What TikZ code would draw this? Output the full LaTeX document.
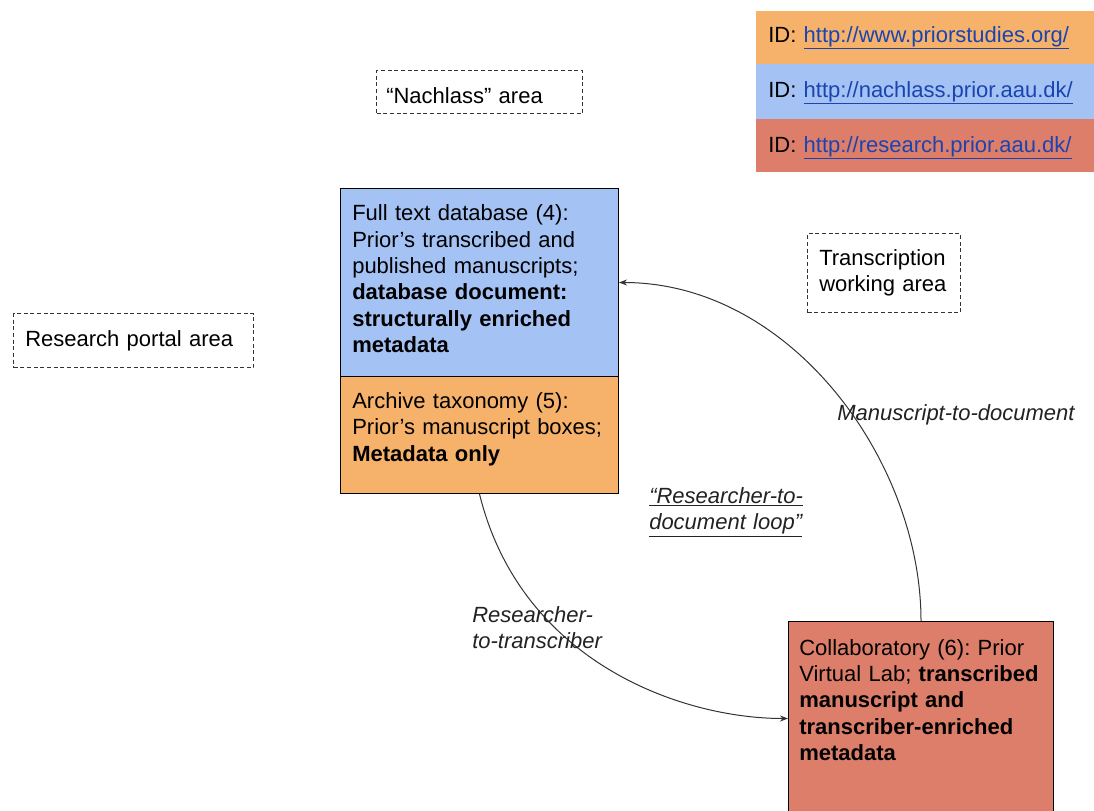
\documentclass[tikz,border=0pt]{standalone}
\usepackage{fontspec}
\setmainfont{Liberation Sans}
\usetikzlibrary{arrows.meta}
\frenchspacing
\definecolor{orangeF}{HTML}{F6B26B}
\definecolor{blueF}{HTML}{A4C2F4}
\definecolor{redF}{HTML}{DD7E6B}
\definecolor{linkC}{HTML}{1A44B0}
\definecolor{lineC}{HTML}{333333}
\definecolor{labC}{HTML}{222222}
\newcommand\fs{\fontsize{16.5}{19.7}\selectfont}
\newcommand\lnk[1]{\textcolor{linkC}{\underline{#1}}}
\tikzset{
  box/.style={draw=black, line width=0.75pt, anchor=north west, inner sep=0pt},
  legbox/.style={draw=none, anchor=north west, inner sep=0pt, minimum width=255pt},
  dashbox/.style={draw=lineC, line width=0.75pt, dash pattern=on 3pt off 2pt, anchor=north west, inner sep=0pt},
  txt/.style={anchor=north west, inner sep=0pt, align=left, text width=300pt, font=\fs},
  lab/.style={txt, text=labC, font=\fs\itshape},
  conn/.style={draw=lineC, line width=0.75pt, -{Stealth[length=6pt,width=4.5pt]}}
}
\begin{document}
\begin{tikzpicture}[x=0.75pt,y=-0.75pt]
\useasboundingbox (0,0) rectangle (1094,810);
% legend
\node[legbox, fill=orangeF, minimum height=39.75pt] (legO) at (756,11) {};
\node[legbox, fill=blueF, minimum height=41.25pt] (legB) at (756,64) {};
\node[legbox, fill=redF, minimum height=39.75pt] (legR) at (756,119) {};
\node[txt] (legOt) at (768,23.6) {\strut ID: \lnk{http://www.priorstudies.org/}};
\node[txt] (legBt) at (768,78.6) {\strut ID: \lnk{http://nachlass.prior.aau.dk/}};
\node[txt] (legRt) at (768,133.6) {\strut ID: \lnk{http://research.prior.aau.dk/}};
% dashed area boxes
\node[dashbox, minimum width=154.5pt, minimum height=32.25pt] (nach) at (376,70) {};
\node[txt] (nacht) at (386,84.6) {\strut “Nachlass” area};
\node[dashbox, minimum width=180pt, minimum height=40.5pt] (rport) at (13,313) {};
\node[txt] (rportt) at (25,327.6) {\strut Research portal area};
\node[dashbox, minimum width=114.75pt, minimum height=59.25pt] (trans) at (807,233) {};
\node[txt] (transt) at (819,246.6) {\strut Transcription\\working area};
% main boxes
\node[box, fill=blueF, minimum width=208.5pt, minimum height=141pt] (blue) at (340,188) {};
\node[box, fill=orangeF, minimum width=208.5pt, minimum height=87.75pt] (orange) at (340,376) {};
\node[box, fill=redF, minimum width=198.75pt, minimum height=145.5pt] (red) at (788,621) {};
\node[txt] (bluet) at (352,202.3) {\strut Full text database (4):\\Prior’s transcribed and\\published manuscripts;\\\textbf{database document:}\\\textbf{structurally enriched}\\\textbf{metadata}};
\node[txt] (oranget) at (352,389.9) {\strut Archive taxonomy (5):\\Prior’s manuscript boxes;\\\textbf{Metadata only}};
\node[txt] (redt) at (799,636.6) {\strut Collaboratory (6): Prior\\Virtual Lab; \textbf{transcribed}\\\textbf{manuscript and}\\\textbf{transcriber-enriched}\\\textbf{metadata}};
% connectors
\draw[conn] (orange.south) .. controls +(41,167) and +(-108,0) .. (red.west);
\draw[conn] (red.north) .. controls +(0,-160) and +(172,0) .. (blue.east);
% labels
\node[lab] (lmd) at (837,401.6) {\strut Manuscript-to-document};
\node[lab] (lrd) at (649,484.6) {\strut \underline{“Researcher-to-}\\\underline{document loop”}};
\node[lab] (lrt) at (472,603.6) {\strut Researcher-\\to-transcriber};
\end{tikzpicture}
\end{document}
